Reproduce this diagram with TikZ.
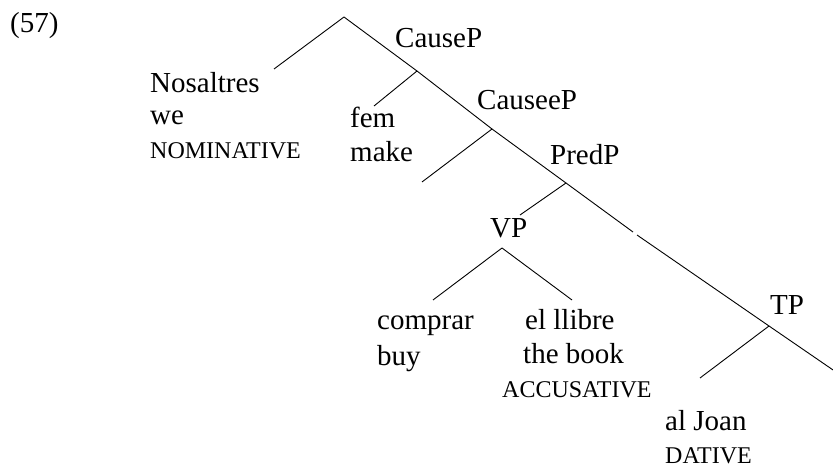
\documentclass[tikz,border=0pt]{standalone}
\usepackage{fontspec}
\setmainfont{Liberation Serif}
\begin{document}
\begin{tikzpicture}[x=1bp,y=-1bp,
  branch/.style={line width=0.9bp, black},
  word/.style={inner sep=0pt, anchor=base west, font=\fontsize{29bp}{33bp}\selectfont},
  casemark/.style={inner sep=0pt, anchor=base west, font=\fontsize{24bp}{28bp}\selectfont}]
\useasboundingbox (0,0) rectangle (833,468);

% branching points of the tree
\coordinate (root) at (344,17);
\coordinate (spec) at (274,69);
\coordinate (causep) at (417,71);
\coordinate (femend) at (374,106);
\coordinate (causeep) at (492,129);
\coordinate (causeeleft) at (422,182);
\coordinate (predp) at (566,183);
\coordinate (vptop) at (520,215);
\coordinate (breakA) at (633,232);
\coordinate (breakB) at (637,235);
\coordinate (vp) at (502,248);
\coordinate (vleft) at (433,300);
\coordinate (vright) at (572,300);
\coordinate (tp) at (769,326);
\coordinate (tleft) at (700,378);
\coordinate (tright) at (836,372);

% branches
\draw[branch] (root) -- (spec);
\draw[branch] (root) -- (causep);
\draw[branch] (causep) -- (femend);
\draw[branch] (causep) -- (causeep);
\draw[branch] (causeep) -- (causeeleft);
\draw[branch] (causeep) -- (predp);
\draw[branch] (predp) -- (vptop);
\draw[branch] (predp) -- (breakA);
\draw[branch] (breakB) -- (tp);
\draw[branch] (vp) -- (vleft);
\draw[branch] (vp) -- (vright);
\draw[branch] (tp) -- (tleft);
\draw[branch] (tp) -- (tright);

% example number and category labels
\node[word] (exnum) at (10,33) {(57)};
\node[word] (lcausep) at (395,48) {CauseP};
\node[word] (lcauseep) at (477,110) {CauseeP};
\node[word] (lpredp) at (550,165) {PredP};
\node[word] (lvp) at (490,238) {VP};
\node[word] (ltp) at (770,315) {TP};

% leaves
\node[word] (nos) at (150,93) {Nosaltres};
\node[word] (we) at (150,125) {we};
\node[casemark] (nom) at (150,159) {NOMINATIVE};
\node[word] (fem) at (350,128) {fem};
\node[word] (make) at (350,162) {make};
\node[word] (comprar) at (377,330) {comprar};
\node[word] (buy) at (377,366) {buy};
\node[word] (llibre) at (525,330) {el llibre};
\node[word] (book) at (523,364) {the book};
\node[casemark] (acc) at (502,397) {ACCUSATIVE};
\node[word] (joan) at (665,430) {al Joan};
\node[casemark] (dat) at (665,463) {DATIVE};
\end{tikzpicture}
\end{document}
